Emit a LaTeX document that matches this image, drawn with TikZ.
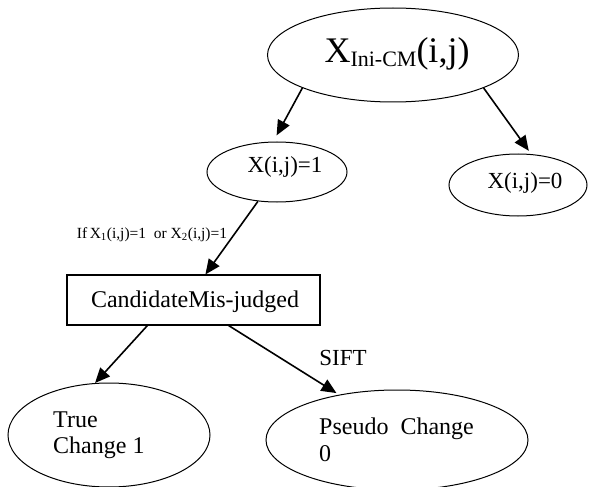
\documentclass[tikz,border=0pt]{standalone}
\usepackage{fontspec}
\setmainfont{Liberation Serif}
\usetikzlibrary{shapes.geometric,arrows.meta}
\tikzset{
  ell/.style={draw=black, line width=1pt, ellipse, inner sep=0pt},
  box/.style={draw=black, line width=1.1pt, rectangle, inner sep=0pt},
  txt/.style={inner sep=0pt, anchor=base},
  txtl/.style={inner sep=0pt, anchor=base west},
  arr/.style={line width=1.6pt, -{Triangle[length=15pt,width=13pt]}},
}
\begin{document}
\begin{tikzpicture}[x=1pt,y=-1pt]
\useasboundingbox (0,0) rectangle (614,487);
\clip (0,0) rectangle (614,487);
% shapes
\node[ell, minimum width=251pt, minimum height=94pt] (top) at (393,55) {};
\node[ell, minimum width=140pt, minimum height=60pt] (x1) at (277,172) {};
\node[ell, minimum width=138pt, minimum height=62pt] (x0) at (518,185) {};
\node[box, minimum width=253pt, minimum height=50pt] (rect) at (193.5,300) {};
\node[ell, minimum width=202pt, minimum height=104pt] (tc) at (109,435) {};
\node[ell, minimum width=262pt, minimum height=100pt] (pc) at (397,440) {};
% texts
\node[txt] (ttop) at (397,63) {\fontsize{36}{36}\selectfont X\raisebox{-4pt}{\fontsize{22}{22}\selectfont Ini-CM}(i,j)};
\node[txt] (tx1) at (285,172) {\fontsize{23}{23}\selectfont X(i,j)=1};
\node[txt] (tx0) at (525,188) {\fontsize{23}{23}\selectfont X(i,j)=0};
\node[txt] (trect) at (195,307) {\fontsize{24}{24}\selectfont CandidateMis-judged};
\node[txtl] (ttc1) at (53,427) {\fontsize{24}{24}\selectfont True};
\node[txtl] (ttc2) at (53,453) {\fontsize{24}{24}\selectfont Change 1};
\node[txtl] (tpc1) at (319,434) {\fontsize{24}{24}\selectfont Pseudo\ \ Change};
\node[txtl] (tpc2) at (319,461) {\fontsize{24}{24}\selectfont 0};
\node[txt] (tsift) at (343,365) {\fontsize{23}{23}\selectfont SIFT};
\node[txt] (tcond) at (152,238) {\fontsize{15.5}{15.5}\selectfont If\,X\textsubscript{1}(i,j)=1\ \ or\ X\textsubscript{2}(i,j)=1};
% connectors
\draw[arr, shorten >=7pt] (top.200) -- (x1.97);
\draw[arr, shorten >=4pt] (top.340) -- (x0.67);
\draw[arr] (x1.237) -- (rect.65);
\draw[arr] (rect.209) -- (tc.105);
\draw[arr, shorten >=3pt] (rect.324) -- (pc.142);
\end{tikzpicture}
\end{document}
